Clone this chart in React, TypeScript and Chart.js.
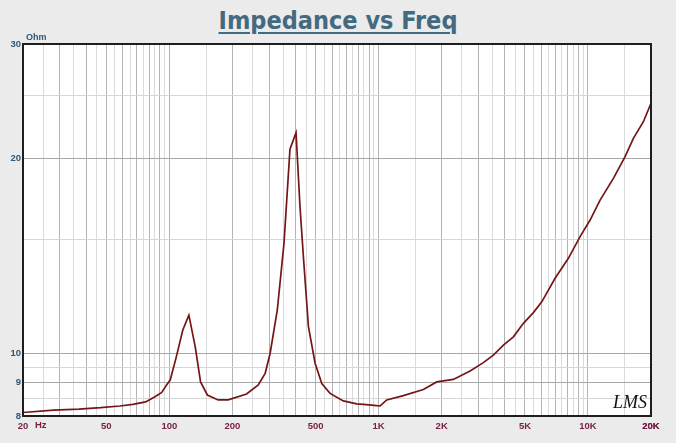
import { useEffect, useRef } from "react";
import { Chart, registerables } from "chart.js";

Chart.register(...registerables);

// impedance curve (Hz / Ohm)
const freqs = [
  20, 28, 37, 47, 58, 67, 77, 85, 92, 97, 101, 108, 116, 124, 133, 141, 152,
  171, 191, 234, 266, 287, 303, 328, 353, 377, 403, 421, 437, 462, 497, 535,
  586, 678, 786, 845, 979, 1016, 1093, 1312, 1635, 1895, 2274, 2734, 3164,
  3532, 3944, 4402, 4914, 5484, 6016, 6964, 8058, 9168, 10234, 11424, 13226,
  15038, 16480, 18394, 20000,
];
const ohms = [
  8.1, 8.17, 8.2, 8.24, 8.29, 8.34, 8.41, 8.56, 8.7, 8.93, 9.09, 9.87, 10.86,
  11.45, 10.23, 9.03, 8.62, 8.47, 8.47, 8.65, 8.93, 9.31, 9.99, 11.66, 14.77,
  20.64, 21.89, 16.83, 14.09, 10.99, 9.65, 8.98, 8.67, 8.44, 8.35, 8.34, 8.3,
  8.29, 8.47, 8.6, 8.79, 9.03, 9.11, 9.39, 9.67, 9.93, 10.29, 10.6, 11.12,
  11.55, 12.0, 13.05, 14.01, 15.13, 16.05, 17.23, 18.61, 20.1, 21.46, 22.76,
  24.3,
];

const xLabelFreqs = [20, 50, 100, 200, 500, 1000, 2000, 5000, 10000, 20000];
const xLabelTexts = ["20", "50", "100", "200", "500", "1K", "2K", "5K", "10K", "20K"];
const gridSteps = [1, 1.5, 2, 2.5, 3, 3.5, 4, 4.5, 5, 5.5, 6, 6.5, 7, 7.5, 8, 8.5, 9, 9.5];
const decades = [10, 100, 1000, 10000];
const yGrid = [8, 8.5, 9, 9.5, 10, 15, 20, 25, 30];
const yLabels = [8, 9, 10, 20, 30];

const xGrid: number[] = [];
decades.forEach((d) =>
  gridSteps.forEach((s) => {
    const v = Math.round(d * s);
    if (v >= 20 && v <= 20000) xGrid.push(v);
  })
);
xGrid.push(20000);

const isWhole = (v: number) => {
  const p = Math.pow(10, Math.floor(Math.log10(v) + 1e-9));
  return Math.abs(v / p - Math.round(v / p)) < 1e-6;
};

const labelFont = { family: "'Liberation Sans', Arial, sans-serif", size: 9.5, weight: "bold" as const };

const decor = {
  id: "decor",
  beforeDraw(chart: any) {
    const { ctx, chartArea: a } = chart;
    ctx.save();
    ctx.fillStyle = "#ffffff";
    ctx.fillRect(a.left, a.top, a.right - a.left, a.bottom - a.top);
    ctx.restore();
  },
  afterDraw(chart: any) {
    const { ctx, chartArea: a } = chart;
    ctx.save();
    ctx.strokeStyle = "#1e1e1e";
    ctx.lineWidth = 2;
    ctx.strokeRect(a.left, a.top, a.right - a.left, a.bottom - a.top);

    ctx.font = "bold 9px 'Liberation Sans', Arial, sans-serif";
    ctx.fillStyle = "#2f5878";
    ctx.textBaseline = "alphabetic";
    ctx.fillText("Ohm", a.left + 3, a.top - 4);

    ctx.font = "bold 9.5px 'Liberation Sans', Arial, sans-serif";
    ctx.fillStyle = "#7a2048";
    ctx.textBaseline = "middle";
    ctx.fillText("Hz", a.left + 12, a.bottom + 9);

    ctx.font = "italic 18px 'Liberation Serif', serif";
    ctx.fillStyle = "#111111";
    ctx.textBaseline = "alphabetic";
    ctx.fillText("LMS", a.right - 38, a.bottom - 8);
    ctx.restore();
  },
};

function ImpedanceChart() {
  const canvasRef = useRef<HTMLCanvasElement>(null);
  const chartRef = useRef<Chart | null>(null);

  useEffect(() => {
    const ctx = canvasRef.current!.getContext("2d")!;
    if (chartRef.current) chartRef.current.destroy();

    chartRef.current = new Chart(ctx, {
      type: "line",
      data: {
        datasets: [
          {
            label: "Impedance",
            data: freqs.map((f, i) => ({ x: f, y: ohms[i] })),
            borderColor: "#741616",
            borderWidth: 1.7,
            pointRadius: 0,
            tension: 0,
          },
        ],
      },
      options: {
        animation: false,
        responsive: true,
        maintainAspectRatio: false,
        layout: { padding: { top: 44, right: 25, left: 0, bottom: 0 } },
        plugins: { legend: { display: false }, tooltip: { enabled: false } },
        scales: {
          x: {
            type: "logarithmic",
            min: 20,
            max: 20000,
            afterBuildTicks: (axis: any) => {
              axis.ticks = xGrid.map((v) => ({ value: v }));
            },
            afterFit: (axis: any) => {
              axis.height = 27;
            },
            border: { display: false },
            grid: {
              drawTicks: false,
              color: (c: any) => (isWhole(c.tick.value) ? "#b4b4b4" : "#dadada"),
              lineWidth: 1,
            },
            ticks: {
              autoSkip: false,
              maxRotation: 0,
              padding: 5,
              color: "#7a2048",
              font: labelFont,
              callback: (v: any) => {
                const i = xLabelFreqs.indexOf(Number(v));
                return i >= 0 ? xLabelTexts[i] : "";
              },
            },
          },
          y: {
            type: "logarithmic",
            min: 8,
            max: 30,
            afterBuildTicks: (axis: any) => {
              axis.ticks = yGrid.map((v) => ({ value: v }));
            },
            afterFit: (axis: any) => {
              axis.width = 23;
            },
            border: { display: false },
            grid: {
              drawTicks: false,
              color: (c: any) => (yLabels.includes(c.tick.value) ? "#a8a8a8" : "#d6d6d6"),
              lineWidth: 1,
            },
            ticks: {
              autoSkip: false,
              padding: 2,
              color: "#2f5878",
              font: labelFont,
              callback: (v: any) => (yLabels.includes(Number(v)) ? String(v) : ""),
            },
          },
        },
      },
      plugins: [decor],
    });

    return () => chartRef.current?.destroy();
  }, []);

  return (
    <div style={{ position: "absolute", left: 0, top: 0, width: 676, height: 443 }}>
      <canvas ref={canvasRef}></canvas>
    </div>
  );
}

export default function App() {
  return (
    <div
      style={{
        position: "absolute",
        left: 0,
        top: 0,
        width: 676,
        height: 443,
        background: "#ebebeb",
        overflow: "hidden",
      }}
    >
      <div
        style={{
          position: "absolute",
          left: 0,
          top: 6,
          width: 676,
          textAlign: "center",
          fontFamily: "'DejaVu Sans Condensed', 'DejaVu Sans', sans-serif",
          fontStretch: "condensed",
          fontWeight: "bold",
          fontSize: 25,
          lineHeight: "30px",
          color: "#436a80",
          textDecoration: "underline",
          textDecorationThickness: 2,
          textUnderlineOffset: 3,
        }}
      >
        Impedance vs Freq
      </div>
      <ImpedanceChart />
    </div>
  );
}
